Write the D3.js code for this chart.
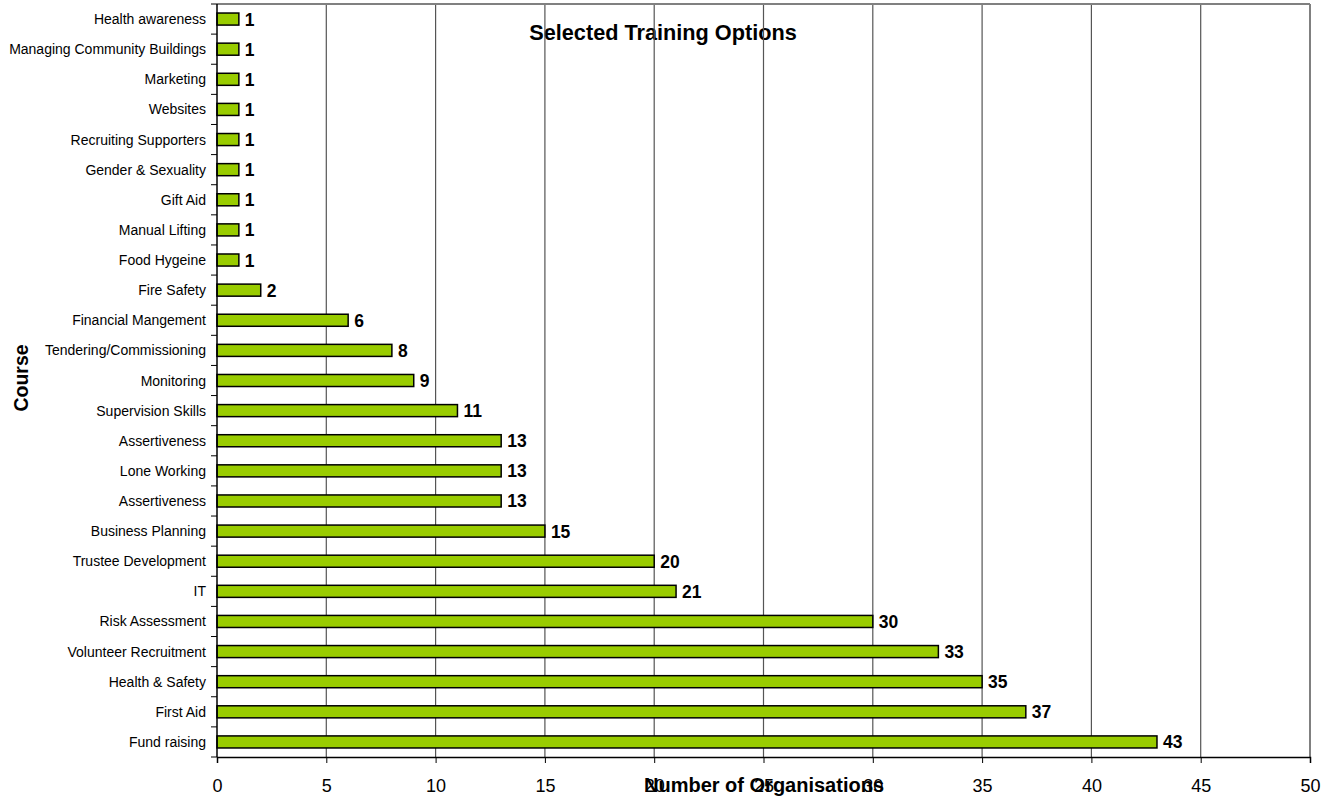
<!DOCTYPE html>
<html>
<head>
<meta charset="utf-8">
<script src="https://cdn.jsdelivr.net/npm/d3@7"></script>
<style>
  body { margin: 0; background: #fff; }
  text { font-family: "Liberation Sans", Arial, sans-serif; }
</style>
</head>
<body>
<svg id="chart" width="1328" height="796"></svg>
<script>
// chart data, top row first
var courses = ["Health awareness", "Managing Community Buildings", "Marketing", "Websites",
    "Recruiting Supporters", "Gender & Sexuality", "Gift Aid", "Manual Lifting", "Food Hygeine",
    "Fire Safety", "Financial Mangement", "Tendering/Commissioning", "Monitoring",
    "Supervision Skills", "Assertiveness", "Lone Working", "Assertiveness", "Business Planning",
    "Trustee Development", "IT", "Risk Assessment", "Volunteer Recruitment", "Health & Safety",
    "First Aid", "Fund raising"];
var counts = [1, 1, 1, 1, 1, 1, 1, 1, 1, 2, 6, 8, 9, 11, 13, 13, 13, 15, 20, 21, 30, 33, 35, 37, 43];
var xTicks = [0, 5, 10, 15, 20, 25, 30, 35, 40, 45, 50];

var svg = d3.select('#chart');
var plotLeft = 217, plotRight = 1310, plotTop = 4, plotBottom = 757;

var x = d3.scaleLinear().domain([0, 50]).range([plotLeft, plotRight]);
var y = d3.scaleBand().domain(d3.range(courses.length)).range([plotTop, plotBottom]).paddingInner(0.6).paddingOuter(0.3);
var yStep = (plotBottom - plotTop) / courses.length;

// title (gridlines are drawn over it, as in the original)
svg.append('text')
    .attr('x', 663).attr('y', 40)
    .attr('text-anchor', 'middle')
    .style('font-size', '21.7px').style('font-weight', 'bold')
    .text('Selected Training Options');

// vertical gridlines
svg.append('g').selectAll('line')
    .data(xTicks.slice(1))
    .enter().append('line')
    .attr('x1', function (d) { return x(d); })
    .attr('x2', function (d) { return x(d); })
    .attr('y1', plotTop).attr('y2', plotBottom)
    .attr('stroke', '#555').attr('stroke-width', 1.2);

// plot border top and right
svg.append('line')
    .attr('x1', plotLeft).attr('x2', plotRight).attr('y1', plotTop).attr('y2', plotTop)
    .attr('stroke', '#808080').attr('stroke-width', 2);
svg.append('line')
    .attr('x1', plotRight).attr('x2', plotRight).attr('y1', plotTop).attr('y2', plotBottom)
    .attr('stroke', '#808080').attr('stroke-width', 2);

// bars
svg.append('g').selectAll('rect')
    .data(counts)
    .enter().append('rect')
    .attr('x', x(0))
    .attr('y', function (d, i) { return y(i); })
    .attr('width', function (d) { return x(d) - x(0); })
    .attr('height', y.bandwidth())
    .attr('fill', '#99cc00')
    .attr('stroke', '#000').attr('stroke-width', 1.5);

// value labels
svg.append('g').selectAll('text')
    .data(counts)
    .enter().append('text')
    .attr('x', function (d) { return x(d) + 6; })
    .attr('y', function (d, i) { return y(i) + y.bandwidth() / 2 + 6.5; })
    .style('font-size', '17.5px').style('font-weight', 'bold')
    .text(function (d) { return d; });

// x axis
var xAxis = d3.axisBottom(x).tickValues(xTicks).tickSize(6).tickPadding(16);
var gx = svg.append('g').attr('transform', 'translate(0,' + plotBottom + ')').call(xAxis);
gx.select('.domain').attr('stroke', '#000').attr('stroke-width', 1.5);
gx.selectAll('.tick line').attr('stroke', '#000');
gx.selectAll('.tick text').style('font-size', '18px').attr('fill', '#000');

// y axis: labels in band centers, ticks at band edges
svg.append('line')
    .attr('x1', plotLeft).attr('x2', plotLeft).attr('y1', plotTop).attr('y2', plotBottom)
    .attr('stroke', '#000').attr('stroke-width', 1.5);
svg.append('g').selectAll('line')
    .data(d3.range(courses.length + 1))
    .enter().append('line')
    .attr('x1', plotLeft - 6).attr('x2', plotLeft)
    .attr('y1', function (i) { return plotTop + i * yStep; })
    .attr('y2', function (i) { return plotTop + i * yStep; })
    .attr('stroke', '#000');
svg.append('g').selectAll('text')
    .data(courses)
    .enter().append('text')
    .attr('x', plotLeft - 11)
    .attr('y', function (d, i) { return y(i) + y.bandwidth() / 2 + 5; })
    .attr('text-anchor', 'end')
    .style('font-size', '14px')
    .text(function (d) { return d; });

// axis titles
svg.append('text')
    .attr('x', 764).attr('y', 792)
    .attr('text-anchor', 'middle')
    .style('font-size', '20px').style('font-weight', 'bold')
    .text('Number of Organisations');
svg.append('text')
    .attr('transform', 'translate(28,378) rotate(-90)')
    .attr('text-anchor', 'middle')
    .style('font-size', '19.5px').style('font-weight', 'bold')
    .text('Course');
</script>
</body>
</html>
